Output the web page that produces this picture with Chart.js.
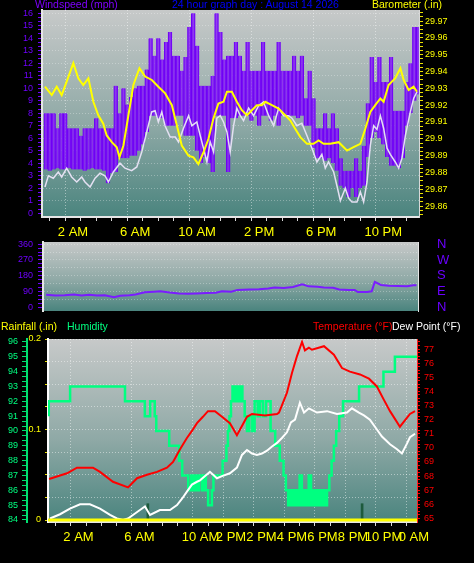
<!DOCTYPE html>
<html lang="en">
<head>
<meta charset="UTF-8">
<title>24 hour graph</title>
<script src="https://cdn.jsdelivr.net/npm/chart.js"></script>
<style>
    body { margin: 0; width: 474px; height: 563px; background: #000; position: relative; overflow: hidden;
           font-family: "Liberation Sans", Arial, sans-serif; }
    canvas { position: absolute; left: 0; }
    .t { position: absolute; font-size: 10.5px; line-height: 11px; white-space: nowrap; }
</style>
</head>
<body>
<canvas id="windChart" width="474" height="245" style="top:0"></canvas>
<canvas id="dirChart" width="474" height="80" style="top:236px"></canvas>
<canvas id="climateChart" width="474" height="247" style="top:316px"></canvas>

<span class="t" style="left:35px;top:-1px;color:#7f00ff">Windspeed (mph)</span>
<span class="t" style="left:172px;top:-1px;color:#0000ff">24 hour graph day : August 14 2026</span>
<span class="t" style="left:372px;top:-1px;color:#ffff00">Barometer (.in)</span>
<span class="t" style="left:1px;top:321px;color:#ffff00">Rainfall (.in)</span>
<span class="t" style="left:67px;top:321px;color:#00ff80">Humidity</span>
<span class="t" style="left:313px;top:321px;color:#ff0000">Temperature (°F)</span>
<span class="t" style="left:392px;top:321px;color:#ffffff">Dew Point (°F)</span>

<script>
// ---- top panel: wind speed band (15 min bins from 0:15), average wind, barometer ----
const windLow = [3.5, 3.4, 3.5, 3.6, 3.5, 3.5, 3.6, 3.5, 3.5, 3.5, 3.4, 3.5, 3.6, 3.5, 3.5, 3.4,
    2.4, 3.2, 3.3, 4.4, 4.4, 4.4, 4.6, 4.6, 5.0, 5.5, 6.5, 7.8, 7.8, 7.6, 7.6, 7.0,
    7.0, 7.0, 7.8, 7.8, 6.2, 6.2, 6.2, 5.0, 4.0, 4.5, 4.0, 3.3, 7.8, 7.8, 7.8, 3.3,
    7.6, 7.6, 7.8, 7.8, 7.8, 7.4, 7.8, 7.0, 7.8, 7.8, 7.4, 7.8, 7.0, 7.8, 7.8, 7.8,
    7.8, 7.6, 7.8, 7.0, 7.0, 5.2, 4.4, 4.4, 4.2, 4.4, 4.0, 3.4, 2.2, 2.0, 1.3, 2.0,
    1.3, 2.0, 2.2, 4.5, 6.0, 6.5, 6.0, 5.5, 4.5, 3.8, 3.8, 3.6, 4.4, 7.0, 8.0, 9.0, 9.5];
const windHigh = [8.0, 8.0, 8.0, 6.8, 8.0, 8.0, 6.8, 6.8, 6.8, 6.2, 6.8, 6.8, 6.8, 7.6, 6.8, 6.8,
    6.8, 6.8, 10.2, 8.0, 10.0, 8.7, 9.3, 10.0, 10.2, 10.2, 11.5, 14.0, 12.6, 14.0, 12.3, 13.7,
    14.5, 12.6, 12.6, 11.4, 12.5, 14.9, 16.0, 13.4, 10.2, 10.2, 10.2, 11.0, 16.0, 14.5, 12.3, 12.6,
    12.6, 13.7, 12.6, 11.4, 13.7, 11.4, 11.4, 11.4, 13.7, 11.4, 11.4, 11.4, 13.7, 11.4, 11.4, 11.4,
    12.6, 11.4, 12.6, 9.2, 11.4, 9.2, 6.8, 6.8, 8.0, 6.8, 8.0, 6.8, 4.4, 3.4, 3.4, 3.4,
    4.4, 3.4, 5.4, 8.8, 12.5, 10.5, 12.5, 10.5, 10.5, 12.5, 8.2, 8.2, 8.2, 10.5, 12.0, 14.9, 14.9];
const windBinHours = windLow.map((_, i) => 0.25 * (i + 1));

const windAvgHours = [0.19, 0.41, 0.73, 1.05, 1.27, 1.59, 1.91, 2.24, 2.56, 2.77, 3.1, 3.42, 3.74, 4.06, 4.28, 4.6,
    5.03, 5.35, 5.78, 6.11, 6.43, 6.75, 7.07, 7.29, 7.5, 7.72, 7.93, 8.26, 8.59, 8.8, 9.12, 9.45,
    9.66, 9.98, 10.2, 10.41, 10.63, 10.84, 11.06, 11.27, 11.49, 11.7, 11.92, 12.13, 12.35, 12.56, 12.78, 12.99,
    13.32, 13.64, 13.96, 14.28, 14.61, 14.93, 15.25, 15.57, 15.9, 16.11, 16.43, 16.75, 17.08, 17.4,
    17.72, 18.04, 18.26, 18.47, 18.8, 19.01, 19.23, 19.55, 19.76, 19.98, 20.3, 20.52, 20.73, 20.95,
    21.16, 21.38, 21.59, 21.81, 22.02, 22.24, 22.45, 22.77, 22.99, 23.2, 23.42, 23.74, 23.96, 24.17];
const windAvg = [2.1, 3.0, 2.8, 3.3, 2.9, 3.6, 2.9, 2.5, 2.9, 2.5, 2.1, 2.8, 3.2, 3.0, 2.5, 3.3,
    4.0, 3.6, 3.4, 3.7, 4.9, 6.5, 8.1, 8.2, 7.3, 8.1, 7.0, 6.1, 6.1, 5.7, 6.8, 7.8,
    7.0, 7.3, 6.2, 5.2, 4.1, 5.7, 4.9, 7.6, 7.8, 7.3, 6.5, 4.9, 7.0, 8.4, 7.8, 7.4,
    8.4, 7.8, 8.6, 8.9, 7.8, 7.0, 8.4, 7.8, 7.8, 7.6, 7.0, 7.2, 6.2, 5.2,
    4.1, 4.7, 3.6, 4.1, 3.3, 2.2, 1.0, 2.0, 1.2, 0.9, 0.9, 1.7, 0.9, 2.5,
    5.4, 7.0, 6.7, 7.8, 6.8, 5.2, 4.7, 4.1, 3.6, 4.4, 6.2, 8.1, 9.2, 9.7];

const baroHours = [0.19, 0.63, 0.95, 1.27, 1.59, 2.02, 2.34, 2.66, 2.99, 3.31, 3.63, 3.95, 4.17, 4.5, 4.82, 4.99,
    5.25, 5.57, 5.89, 6.28, 6.65, 7.08, 7.5, 7.94, 8.37, 8.69, 9.01, 9.44, 9.76, 10.08, 10.41, 10.73,
    11.05, 11.37, 11.7, 11.92, 12.24, 12.56, 12.88, 13.21, 13.53, 13.85, 14.17, 14.39, 14.82, 15.25, 15.68, 16.0,
    16.32, 16.65, 17.08, 17.5, 17.83, 18.15, 18.58, 19.12, 19.66, 20.08, 20.52, 20.84, 21.16, 21.48,
    21.81, 22.02, 22.34, 22.77, 23.1, 23.31, 23.63, 23.95, 24.17];
const baroValues = [29.931, 29.926, 29.931, 29.926, 29.934, 29.945, 29.936, 29.932, 29.936, 29.922, 29.914, 29.909, 29.902, 29.898, 29.895, 29.889,
    29.896, 29.914, 29.932, 29.942, 29.937, 29.935, 29.931, 29.927, 29.920, 29.908, 29.896, 29.890, 29.889, 29.885, 29.892, 29.900,
    29.912, 29.921, 29.922, 29.928, 29.928, 29.922, 29.917, 29.914, 29.917, 29.920, 29.920, 29.922, 29.920, 29.918, 29.914, 29.911,
    29.906, 29.901, 29.897, 29.897, 29.899, 29.897, 29.897, 29.898, 29.893, 29.895, 29.897, 29.906, 29.916, 29.920,
    29.924, 29.922, 29.932, 29.936, 29.942, 29.935, 29.929, 29.931, 29.928];

const windTicks = [0, 1, 2, 3, 4, 5, 6, 7, 8, 9, 10, 11, 12, 13, 14, 15, 16];
const baroTicks = [29.86, 29.87, 29.88, 29.89, 29.9, 29.91, 29.92, 29.93, 29.94, 29.95, 29.96, 29.97];
const topLabelHours = [2, 6, 10, 14, 18, 22];
const topLabelText = ['2 AM', '6 AM', '10 AM', '2 PM', '6 PM', '10 PM'];

// ---- middle panel: wind direction ----
const dirHours = [0.2, 0.8, 1.4, 2.0, 2.5, 3.0, 3.5, 4.0, 4.6, 5.0, 5.6, 6.0, 6.6, 7.2, 7.6, 8.2, 8.8, 9.4, 10.0, 10.6,
    11.2, 11.6, 12.2, 12.6, 13.4, 14.0, 14.6, 15.0, 15.6, 16.2, 16.8, 17.2, 17.8, 18.2, 18.8, 19.2, 19.8, 20.2, 20.4,
    21.0, 21.3, 21.5, 21.9, 22.4, 23.0, 23.6, 24.0, 24.2];
const dirValues = [72, 68, 70, 74, 68, 72, 68, 70, 58, 66, 70, 74, 86, 90, 92, 85, 80, 78, 80, 82,
    84, 92, 90, 100, 102, 104, 108, 114, 110, 116, 132, 120, 118, 114, 112, 102, 100, 100, 88,
    88, 92, 145, 128, 124, 122, 120, 126, 126];
const dirTicks = [0, 90, 180, 270, 360];
const dirLetters = ['N', 'E', 'S', 'W', 'N'];

// ---- bottom panel: rainfall, humidity, temperature, dew point ----
const rainHours = [0, 24.2];
const rainValues = [0, 0];
const rainRateHours = [6.55, 20.6];
const rainRateValues = [0.018, 0.018];

const humHours = [0.05, 1.45, 5.05, 6.35, 6.7, 7.0, 7.1, 7.95, 8.6, 8.8, 9.2, 9.4, 9.55, 9.65, 9.8, 9.9, 10.1, 10.2,
    10.35, 10.5, 10.75, 10.85, 11.45, 11.7, 11.8, 11.9, 12.0, 12.1, 12.2, 12.35, 12.45, 12.6, 12.75, 12.9, 13.05,
    13.2, 13.4, 13.55, 13.75, 13.9, 14.1, 14.3, 14.6, 14.9, 15.2, 15.45, 15.6, 15.75, 15.9, 16.05, 16.2, 16.35,
    16.5, 16.65, 16.8, 16.95, 17.1, 17.25, 17.4, 17.55, 17.7, 17.85, 18.0, 18.15, 18.3, 18.45, 18.6, 18.75, 18.9,
    19.1, 19.35, 20.4, 22.0, 22.75, 23.5, 24.2];
const humValues = [91, 92, 93, 92, 91, 92, 91, 90, 89, 88, 87, 86, 87, 86, 87, 86, 87, 86,
    87, 86, 85, 86, 87, 88, 89, 90, 91, 92, 93, 92, 93, 92, 93, 92, 91,
    90, 91, 90, 92, 91, 92, 91, 92, 90, 89, 88, 87, 86, 85, 86, 85, 86,
    85, 87, 85, 86, 85, 87, 85, 86, 85, 86, 85, 86, 85, 86, 87, 88, 89,
    90, 91, 92, 93, 94, 95, 95];

const tempHours = [0.07, 1.25, 1.9, 2.95, 3.41, 4.26, 5.25, 5.84, 6.49, 7.15, 7.8, 8.2, 8.66, 9.11, 9.44, 9.77,
    10.16, 10.49, 10.95, 11.41, 11.93, 12.39, 13.05, 13.38, 14.23, 15.02, 15.15, 15.67, 16.0, 16.33, 16.66, 16.85,
    17.11, 17.31, 18.1, 18.75, 19.28, 19.8, 20.46, 21.05, 21.57, 22.03, 22.43, 23.08, 23.74, 24.07];
const tempValues = [67.8, 68.2, 68.6, 68.6, 68.3, 67.6, 67.2, 67.85, 68.1, 68.3, 68.6, 69.0, 69.9, 70.7, 71.2, 71.75,
    72.2, 72.6, 72.6, 72.2, 71.75, 70.9, 72.2, 72.4, 72.3, 72.4, 72.5, 73.9, 75.3, 76.5, 77.5, 76.9,
    77.1, 76.95, 77.2, 76.6, 75.65, 75.4, 75.2, 74.9, 74.35, 73.4, 72.6, 71.5, 72.4, 72.6];

const dewHours = [0.13, 0.79, 1.44, 2.1, 2.75, 3.41, 4.07, 4.52, 4.92, 5.25, 5.57, 6.03, 6.36, 6.69, 7.34, 8.0,
    8.46, 8.79, 9.11, 9.44, 9.77, 9.97, 10.3, 10.62, 11.08, 11.41, 11.93, 12.39, 12.72, 13.05, 13.38, 13.7,
    14.03, 14.36, 14.69, 15.02, 15.34, 15.67, 15.93, 16.2, 16.52, 16.79, 17.11, 17.64, 18.3, 18.95, 19.61, 19.93,
    20.39, 20.72, 21.11, 21.57, 21.9, 22.43, 22.89, 23.21, 23.54, 23.74, 24.07];
const dewValues = [65.0, 65.3, 65.7, 66.0, 66.0, 65.7, 65.25, 65.0, 64.9, 65.0, 65.25, 65.6, 65.85, 65.25, 65.6, 65.6,
    65.95, 66.4, 66.9, 67.4, 67.6, 67.7, 68.0, 68.3, 67.85, 68.0, 68.2, 68.6, 69.5, 69.85, 69.6, 69.5,
    69.6, 69.8, 70.1, 70.35, 70.7, 71.1, 71.8, 72.0, 73.2, 72.5, 72.8, 72.5, 72.6, 72.4, 72.5, 72.8,
    72.5, 72.3, 72.0, 71.3, 70.8, 70.25, 69.9, 69.6, 70.3, 70.75, 71.0];

const humTicks = [84, 85, 86, 87, 88, 89, 90, 91, 92, 93, 94, 95, 96];
const rainTicks = [0, 0.1, 0.2];
const tempTicks = [65, 66, 67, 68, 69, 70, 71, 72, 73, 74, 75, 76, 77];
const bottomLabelHours = [2, 6, 10, 12, 14, 16, 18, 20, 22, 24];
const bottomLabelText = ['2 AM', '6 AM', '10 AM', '2 PM', '2 PM', '4 PM', '6 PM', '8 PM', '10 PM', '0 AM'];

const hourMarks = [];
for (let h = 0; h <= 24; h++) hourMarks.push(h);

const pair = (xs, ys) => xs.map((x, i) => ({ x: x, y: ys[i] }));
const near = (a, b) => Math.abs(a - b) < 1e-6;
const tickOf = c => (c && c.tick) ? c.tick.value : NaN;

// every tick from min to max in steps, labelled only when it is in the label list
function minorTicks(min, max, perUnit) {
    const out = [];
    const n = Math.round((max - min) * perUnit);
    for (let k = 0; k <= n; k++) out.push({ value: +(min + k / perUnit).toFixed(5) });
    return out;
}
const labelFrom = (list, texts) => v => {
    const i = list.findIndex(t => near(t, v));
    return i < 0 ? '' : (texts ? texts[i] : String(list[i]));
};
// fixed axis size, and no extra room asked for the end labels
const fixWidth = w => s => { s.width = w; s.paddingTop = 0; s.paddingBottom = 0; };

const plotBackground = {
    id: 'plotBackground',
    beforeDraw(chart) {
        const { ctx, chartArea: a } = chart;
        const g = ctx.createLinearGradient(0, a.top, 0, a.bottom);
        g.addColorStop(0, '#c7c9c9');
        g.addColorStop(0.55, '#8fa9a6');
        g.addColorStop(1, '#4a847e');
        ctx.save();
        ctx.fillStyle = g;
        ctx.fillRect(a.left, a.top, a.width, a.height);
        ctx.restore();
    }
};

const gridDot = 'rgba(255,255,255,0.45)';
const baseOptions = {
    responsive: false,
    animation: false,
    events: [],
    plugins: { legend: { display: false }, tooltip: { enabled: false } },
    elements: { point: { radius: 0 }, line: { tension: 0 } }
};
const font = size => ({ family: '"Liberation Sans", Arial, sans-serif', size: size });

function hourAxis(labelHours, labelText, max, height) {
    return {
        type: 'linear', min: 0, max: max, offset: false,
        afterBuildTicks: s => { s.ticks = hourMarks.map(v => ({ value: v })); },
        afterFit: s => { s.height = height; s.paddingLeft = 0; s.paddingRight = 0; },
        ticks: { color: '#ffff00', font: font(13), padding: 4, autoSkip: false, maxRotation: 0,
                 callback: labelFrom(labelHours, labelText) },
        grid: { color: c => labelHours.includes(tickOf(c)) ? gridDot : 'transparent',
                tickColor: '#d8d8d8', tickLength: 4 },
        border: { color: '#e6e6e6', width: 2, dash: [1, 2] }
    };
}

// ---------------- top chart ----------------
new Chart(document.getElementById('windChart'), {
    type: 'line',
    data: {
        datasets: [
            { type: 'line', data: pair(baroHours, baroValues), yAxisID: 'baro',
              borderColor: '#ffff00', borderWidth: 2, order: 1 },
            { type: 'line', data: pair(windAvgHours, windAvg), yAxisID: 'wind',
              borderColor: '#e4e0f2', borderWidth: 1.5, order: 2 },
            { type: 'bar', data: windBinHours.map((h, i) => ({ x: h, y: [windLow[i], windHigh[i]] })), yAxisID: 'wind',
              backgroundColor: 'rgba(132,30,248,0.8)', borderColor: '#6e00f4',
              borderWidth: { left: 1, right: 1, top: 0, bottom: 0 }, borderSkipped: false,
              barPercentage: 1, categoryPercentage: 1, order: 3 }
        ]
    },
    options: {
        ...baseOptions,
        layout: { padding: { top: 10, left: 0, right: 0, bottom: 0 } },
        scales: {
            x: hourAxis(topLabelHours, topLabelText, 24.3, 28),
            wind: {
                position: 'left', min: -0.3, max: 16.25,
                afterBuildTicks: s => { s.ticks = minorTicks(0, 16, 3); },
                afterFit: fixWidth(42),
                ticks: { color: '#7000ff', font: font(9), padding: 5, autoSkip: false, callback: labelFrom(windTicks) },
                grid: { color: c => { const v = tickOf(c); return Number.isInteger(v) && v > 0 ? 'rgba(255,255,255,0.3)' : 'transparent'; },
                        tickColor: '#7000ff', tickLength: 4 },
                border: { color: '#e6e6e6', width: 2, dash: [1, 2] }
            },
            baro: {
                position: 'right', min: 29.8535, max: 29.9766,
                afterBuildTicks: s => { s.ticks = minorTicks(29.855, 29.975, 400); },
                afterFit: fixWidth(55),
                ticks: { color: '#ffff00', font: font(9), padding: 2, autoSkip: false,
                         callback: labelFrom(baroTicks) },
                grid: { drawOnChartArea: false, tickColor: '#e8e000', tickLength: 4 },
                border: { color: '#d8d8d8', width: 1 }
            }
        }
    },
    plugins: [plotBackground]
});

// ---------------- wind direction ----------------
new Chart(document.getElementById('dirChart'), {
    type: 'line',
    data: {
        datasets: [
            { data: pair(dirHours, dirValues), yAxisID: 'dir', borderColor: '#7a1cff', borderWidth: 2 }
        ]
    },
    options: {
        ...baseOptions,
        layout: { padding: { top: 6, left: 0, right: 0, bottom: 5 } },
        scales: {
            x: { type: 'linear', min: 0, max: 24.3, display: false },
            dir: {
                position: 'left', min: -20, max: 372,
                afterBuildTicks: s => { s.ticks = minorTicks(0, 360, 1 / 22.5); },
                afterFit: fixWidth(43),
                ticks: { color: '#7000ff', font: font(9), padding: 5, autoSkip: false, callback: labelFrom(dirTicks) },
                grid: { color: c => { const v = tickOf(c); return v % 45 === 0 && v > 0 ? 'rgba(255,255,255,0.3)' : 'transparent'; },
                        tickColor: '#7000ff', tickLength: 5 },
                border: { color: '#e6e6e6', width: 2, dash: [1, 2] }
            },
            compass: {
                position: 'right', min: -20, max: 372,
                afterBuildTicks: s => { s.ticks = dirTicks.map(v => ({ value: v })); },
                afterFit: fixWidth(56),
                ticks: { color: '#6a00ff', font: font(13), padding: 2, autoSkip: false,
                         callback: labelFrom(dirTicks, dirLetters) },
                grid: { drawOnChartArea: false, tickLength: 17, tickColor: 'transparent' },
                border: { color: '#e6e6e6', width: 1 }
            }
        }
    },
    plugins: [plotBackground]
});

// ---------------- rainfall / humidity / temperature ----------------
new Chart(document.getElementById('climateChart'), {
    type: 'line',
    data: {
        datasets: [
            { type: 'line', data: pair(rainHours, rainValues), yAxisID: 'rain',
              borderColor: '#ffff00', borderWidth: 3, order: 0 },
            { type: 'line', data: pair(tempHours, tempValues), yAxisID: 'temp',
              borderColor: '#ff0000', borderWidth: 2, order: 1 },
            { type: 'line', data: pair(dewHours, dewValues), yAxisID: 'temp',
              borderColor: '#ffffff', borderWidth: 2, order: 2 },
            { type: 'line', data: pair(humHours, humValues), yAxisID: 'hum', stepped: 'after',
              borderColor: '#00ff80', borderWidth: 2.5, order: 3 },
            { type: 'bar', data: pair(rainRateHours, rainRateValues), yAxisID: 'rain',
              backgroundColor: '#1d5a3c', barThickness: 2, order: 4 }
        ]
    },
    options: {
        ...baseOptions,
        layout: { padding: { top: 23, left: 0, right: 0, bottom: 0 } },
        scales: {
            x: hourAxis(bottomLabelHours, bottomLabelText, 24.2, 41),
            hum: {
                position: 'left', weight: 2, min: 83.865, max: 96.2,
                afterBuildTicks: s => { s.ticks = minorTicks(84, 96, 3); },
                afterFit: fixWidth(27),
                ticks: { color: '#00ff80', font: font(9), padding: 4, autoSkip: false, callback: labelFrom(humTicks) },
                grid: { drawOnChartArea: false, tickColor: '#00e070', tickLength: 5 },
                border: { color: '#00e070', width: 2 }
            },
            rain: {
                position: 'left', weight: 1, min: -0.0022, max: 0.2,
                afterBuildTicks: s => { s.ticks = minorTicks(0, 0.2, 40); },
                afterFit: fixWidth(21),
                ticks: { color: '#ffff00', font: font(9), padding: 4, autoSkip: false, callback: labelFrom(rainTicks) },
                grid: { color: c => tickOf(c) > 0 ? gridDot : 'transparent', tickColor: '#e8e000', tickLength: 3 },
                border: { color: '#ffffff', width: 2, dash: [1, 2] }
            },
            temp: {
                position: 'right', min: 64.75, max: 77.71,
                afterBuildTicks: s => { s.ticks = minorTicks(65, 77.5, 4); },
                afterFit: fixWidth(57),
                ticks: { color: '#ff0000', font: font(9), padding: 4, autoSkip: false, callback: labelFrom(tempTicks) },
                grid: { drawOnChartArea: false, tickColor: '#ff0000', tickLength: 3 },
                border: { color: '#ff2020', width: 1 }
            }
        }
    },
    plugins: [plotBackground]
});
</script>
</body>
</html>
